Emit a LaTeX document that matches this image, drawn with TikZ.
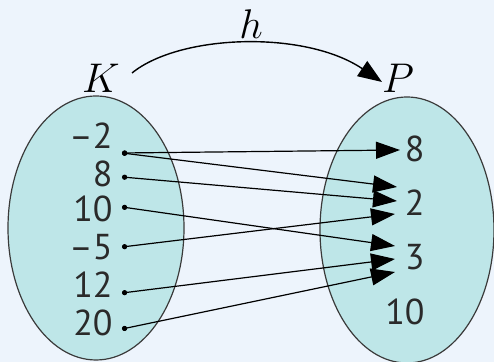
\documentclass[tikz,border=0pt]{standalone}
\usepackage{fontspec}
\setmainfont{PT Sans}
\usetikzlibrary{arrows.meta,positioning}
\definecolor{SetFill}{HTML}{BEE6E8}
\definecolor{SetEdge}{HTML}{3A3A3A}
\definecolor{PageBlue}{HTML}{EDF4FC}
\definecolor{NumInk}{HTML}{2A2A2A}

\begin{document}
\begin{tikzpicture}[x=0.5pt,y=-0.5pt,
    setshape/.style={draw=SetEdge,fill=SetFill,line width=0.6pt},
    elem/.style={font=\fontsize{18}{20}\selectfont,text=NumInk,inner sep=0pt},
    setname/.style={font=\fontsize{20}{22}\selectfont,inner sep=0pt},
    arr/.style={{Circle[length=2.6pt]}-{Triangle[length=12pt,width=8.5pt]},line width=0.6pt},
    maparr/.style={-{Triangle[length=12pt,width=9pt]},line width=0.7pt}
  ]
    \fill[PageBlue] (0,0) rectangle (494,362);
    \useasboundingbox (0,0) rectangle (494,362);

    % the two sets
    \draw[setshape] (96,228) ellipse [x radius=88, y radius=132];
    \draw[setshape] (407,230) ellipse [x radius=87, y radius=133];

    \node[setname] (K) at (101,78) {$K$};
    \node[setname] (P) at (398,78) {$P$};
    \node[setname] (h) at (251,24) {$h$};

    % domain K
    \node[elem,anchor=east] (km2) at (113,136) {–2};
    \node[elem,anchor=east] (k8)  at (113,174) {8};
    \node[elem,anchor=east] (k10) at (113,209) {10};
    \node[elem,anchor=east] (km5) at (113,247) {–5};
    \node[elem,anchor=east] (k12) at (113,285) {12};
    \node[elem,anchor=east] (k20) at (113,323) {20};
    \coordinate (dm2) at (122,153);
    \coordinate (d8)  at (122,177);
    \coordinate (d10) at (122,207);
    \coordinate (dm5) at (122,247);
    \coordinate (d12) at (122,293);
    \coordinate (d20) at (122,329);

    % codomain P
    \node[elem,anchor=east] (p8)  at (425,149) {8};
    \node[elem,anchor=east] (p2)  at (425,203) {2};
    \node[elem,anchor=east] (p3)  at (425,257) {3};
    \node[elem,anchor=east] (p10) at (425,312) {10};
    \coordinate (t8)  at (400,150);
    \coordinate (t2a) at (397,187);
    \coordinate (t2b) at (397,201);
    \coordinate (t2c) at (395,214);
    \coordinate (t3a) at (395,246);
    \coordinate (t3b) at (395,259);
    \coordinate (t3c) at (395,272);

    \draw[arr] (dm2) -- (t8);
    \draw[arr] (dm2) -- (t2a);
    \draw[arr] (d8)  -- (t2b);
    \draw[arr] (dm5) -- (t2c);
    \draw[arr] (d10) -- (t3a);
    \draw[arr] (d12) -- (t3b);
    \draw[arr] (d20) -- (t3c);

    % the map h
    \coordinate (hfrom) at (132,73);
    \coordinate (hto) at (382,82);
    \draw[maparr] (hfrom) .. controls (180,34) and (305,30) .. (hto);
  \end{tikzpicture}
\end{document}
